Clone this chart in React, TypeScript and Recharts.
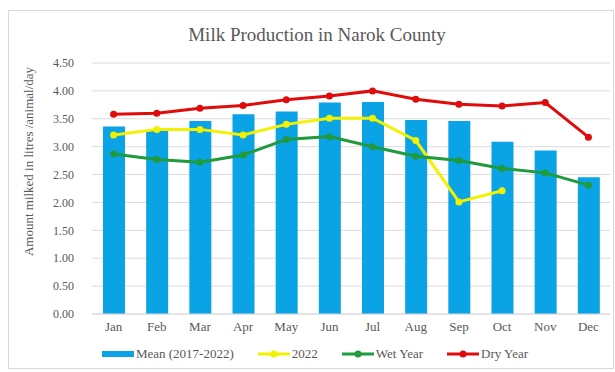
import { ComposedChart, Bar, Line, XAxis, YAxis, CartesianGrid, Legend } from 'recharts'

// values
const months = ['Jan', 'Feb', 'Mar', 'Apr', 'May', 'Jun', 'Jul', 'Aug', 'Sep', 'Oct', 'Nov', 'Dec']
const meanValues = [3.36, 3.3, 3.46, 3.58, 3.63, 3.79, 3.8, 3.48, 3.46, 3.09, 2.93, 2.45]
const year2022 = [3.21, 3.31, 3.31, 3.21, 3.4, 3.51, 3.51, 3.11, 2.01, 2.21, null, null]
const wetYear = [2.87, 2.77, 2.72, 2.85, 3.13, 3.18, 3.0, 2.83, 2.75, 2.61, 2.53, 2.31]
const dryYear = [3.58, 3.6, 3.69, 3.74, 3.84, 3.91, 4.0, 3.85, 3.76, 3.73, 3.79, 3.17]
const yTicks = [0, 0.5, 1, 1.5, 2, 2.5, 3, 3.5, 4, 4.5]

const data = months.map((m, i) => ({
  month: m,
  mean: meanValues[i],
  y2022: year2022[i],
  wet: wetYear[i],
  dry: dryYear[i],
}))

const FONT = '"Liberation Serif", "Times New Roman", serif'
const TEXT = '#595959'

const legendItems = [
  { name: 'Mean (2017-2022)', color: '#0aa3e6', type: 'bar' },
  { name: '2022', color: '#f2f200', type: 'line' },
  { name: 'Wet Year', color: '#1f9a3c', type: 'line' },
  { name: 'Dry Year', color: '#e00b0b', type: 'line' },
]

const LegendContent = () => (
  <div style={{ display: 'flex', justifyContent: 'center', gap: 24, fontFamily: FONT, fontSize: 13, color: TEXT, paddingTop: 12, paddingRight: 20 }}>
    {legendItems.map((it) => (
      <div key={it.name} style={{ display: 'flex', alignItems: 'center' }}>
        <svg width={32} height={10}>
          {it.type === 'bar' ? (
            <rect x={0} y={2} width={32} height={6} fill={it.color} />
          ) : (
            <>
              <line x1={0} y1={5} x2={32} y2={5} stroke={it.color} strokeWidth={3} />
              <circle cx={16} cy={5} r={3.5} fill={it.color} />
            </>
          )}
        </svg>
        <span style={{ marginLeft: 2 }}>{it.name}</span>
      </div>
    ))}
  </div>
)

const AxisTitle = (props: any) => {
  const { viewBox } = props
  const x = viewBox.x - 52 + 40
  const y = viewBox.y + viewBox.height / 2 - 27
  return (
    <text
      x={x}
      y={y}
      transform={`rotate(-90, ${x}, ${y})`}
      textAnchor="middle"
      dominantBaseline="central"
      fill={TEXT}
      fontSize={13}
      fontFamily={FONT}
    >
      Amount milked in litres /animal/day
    </text>
  )
}

export default function App() {
  return (
    <div style={{ position: 'absolute', left: 0, top: 0, width: 615, height: 372, background: '#fff' }}>
      <div style={{ position: 'absolute', left: 8, top: 10, width: 604, height: 357, border: '1px solid #d9d9d9' }} />
      <div style={{ position: 'absolute', left: 0, top: 24, width: 634, textAlign: 'center', fontFamily: FONT, fontSize: 19, color: TEXT }}>
        Milk Production  in Narok County
      </div>
      <ComposedChart
        width={615}
        height={372}
        data={data}
        margin={{ top: 63, right: 5, left: 40, bottom: 2 }}
        style={{ position: 'absolute', left: 0, top: 0 }}
      >
        <CartesianGrid vertical={false} stroke="#dcdcdc" />
        <XAxis
          dataKey="month"
          height={20}
          tickLine={false}
          axisLine={{ stroke: '#d9d9d9' }}
          tick={{ fill: TEXT, fontSize: 13, fontFamily: FONT }}
        />
        <YAxis
          width={52}
          domain={[0, 4.5]}
          ticks={yTicks}
          tickFormatter={(v: number) => v.toFixed(2)}
          axisLine={false}
          tickLine={false}
          tickMargin={12}
          tick={{ fill: TEXT, fontSize: 12, fontFamily: FONT }}
          label={<AxisTitle />}
        />
        <Legend verticalAlign="bottom" height={36} content={<LegendContent />} />
        <Bar dataKey="mean" name="Mean (2017-2022)" fill="#0aa3e6" barSize={22} isAnimationActive={false} />
        <Line dataKey="y2022" name="2022" stroke="#f2f200" strokeWidth={3} dot={{ r: 3.5, fill: '#f2f200', strokeWidth: 0 }} isAnimationActive={false} />
        <Line dataKey="wet" name="Wet Year" stroke="#1f9a3c" strokeWidth={3} dot={{ r: 3.5, fill: '#1f9a3c', strokeWidth: 0 }} isAnimationActive={false} />
        <Line dataKey="dry" name="Dry Year" stroke="#e00b0b" strokeWidth={3} dot={{ r: 3.5, fill: '#e00b0b', strokeWidth: 0 }} isAnimationActive={false} />
      </ComposedChart>
    </div>
  )
}
